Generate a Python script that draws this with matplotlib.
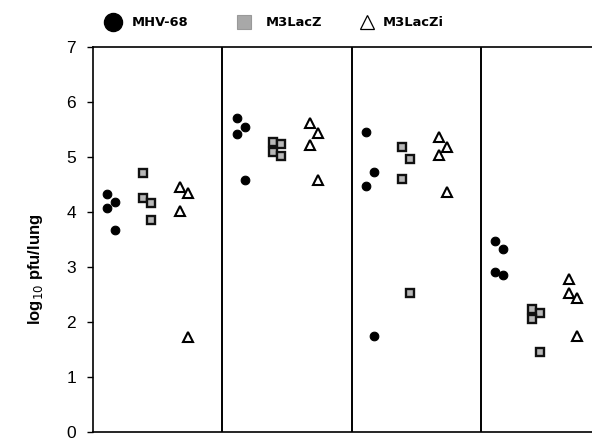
import matplotlib
matplotlib.use("Agg")
import matplotlib.pyplot as plt
from matplotlib.lines import Line2D

# ---- data (log10 pfu/lung), four groups, three viruses ----
series_names = ["MHV-68", "M3LacZ", "M3LacZi"]
mhv68 = [
    [4.33, 4.19, 4.07, 3.67],
    [5.71, 5.55, 5.42, 4.58],
    [5.45, 4.73, 4.47, 1.75],
    [3.48, 3.33, 2.91, 2.85],
]
m3lacz = [
    [4.71, 4.25, 4.16, 3.85],
    [5.28, 5.24, 5.10, 5.02],
    [5.18, 4.96, 4.60, 2.53],
    [2.24, 2.16, 2.06, 1.45],
]
m3laczi = [
    [4.46, 4.35, 4.02, 1.73],
    [5.62, 5.44, 5.22, 4.59],
    [5.37, 5.19, 5.03, 4.37],
    [2.79, 2.52, 2.43, 1.75],
]
# jitter side for each point (0 left, 1 right)
side_mhv = [[0, 1, 0, 1], [0, 1, 0, 1], [0, 1, 0, 1], [0, 1, 0, 1]]
side_lacz = [[0, 0, 1, 1], [0, 1, 0, 1], [0, 1, 0, 1], [0, 1, 0, 1]]
side_laczi = [[0, 1, 0, 1], [0, 1, 0, 1], [0, 1, 0, 1], [0, 0, 1, 1]]
yticks = [0, 1, 2, 3, 4, 5, 6, 7]

W, H = 592, 440
fig = plt.figure(figsize=(W / 100, H / 100), dpi=100)
ax_left, ax_right, ax_bot, ax_top = 93, 592, 432, 47
ax = fig.add_axes([ax_left / W, 1 - ax_bot / H, (ax_right - ax_left) / W, (ax_bot - ax_top) / H])

panel_px = 129.4
xmax = (ax_right - ax_left) / panel_px
ax.set_xlim(0, xmax)
ax.set_ylim(0, 7)

offsets = {"mhv": 0.11, "lacz": 0.39, "laczi": 0.675}
dj = 0.062

styles = {
    "mhv": dict(marker="o", ms=6.2, mfc="black", mec="black", mew=0.8, ls="none"),
    "lacz": dict(marker="s", ms=6.0, mfc="#b8b8b8", mec="#111111", mew=1.7, ls="none"),
    "laczi": dict(marker="^", ms=7.2, mfc="white", mec="black", mew=1.5, ls="none"),
}

for key, vals, sides in (("mhv", mhv68, side_mhv), ("lacz", m3lacz, side_lacz), ("laczi", m3laczi, side_laczi)):
    for g, (yv, sv) in enumerate(zip(vals, sides)):
        xs = [g + offsets[key] + s * dj for s in sv]
        ax.plot(xs, yv, clip_on=False, zorder=3, **styles[key])

# panel dividers
for g in range(1, 4):
    ax.axvline(g, color="black", lw=1.4, zorder=2)

ax.spines["right"].set_visible(False)
for s in ["left", "top", "bottom"]:
    ax.spines[s].set_linewidth(1.2)

ax.set_xticks([])
ax.set_yticks(yticks)
ax.set_yticklabels([str(t) for t in yticks], fontsize=12.5, family="Liberation Sans")
ax.tick_params(axis="y", direction="out", length=4.3, width=1, pad=8)
ax.set_ylabel("log$_{10}$ pfu/lung", fontsize=12, fontweight="bold", family="Liberation Sans")
ax.yaxis.set_label_coords((45 - ax_left) / (ax_right - ax_left), 2.95 / 7)

# legend drawn in figure pixels
def fx(px):
    return px / W

def fy(py):
    return 1 - py / H

fig.add_artist(Line2D([fx(113)], [fy(22)], marker="o", ms=13, mfc="black", mec="black", ls="none"))
fig.add_artist(Line2D([fx(244)], [fy(22)], marker="s", ms=10, mfc="#a8a8a8", mec="#999999", mew=0.8, ls="none"))
fig.add_artist(Line2D([fx(367)], [fy(22)], marker="^", ms=10.5, mfc="white", mec="black", mew=0.9, ls="none"))
for xpx, name in zip([132, 266, 383], series_names):
    fig.text(fx(xpx), fy(23), name, fontsize=9.4, fontweight="bold", family="DejaVu Sans",
             ha="left", va="center")

fig.savefig("out.png", dpi=100)
